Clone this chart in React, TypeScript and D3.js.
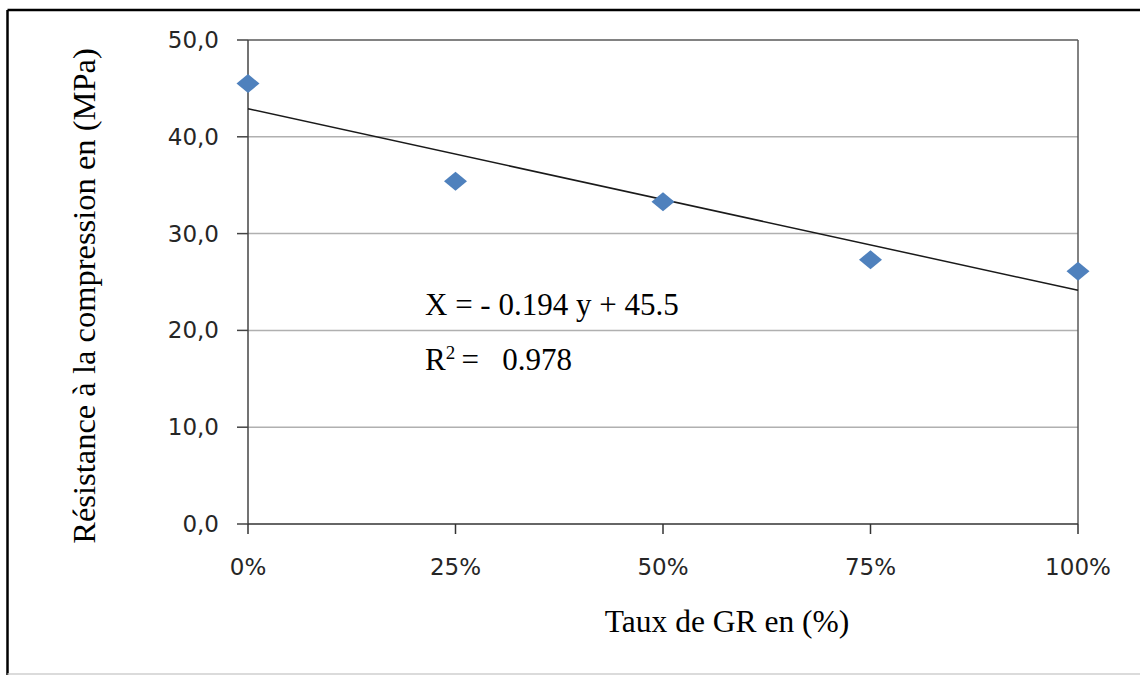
import React from "react";
import * as d3 from "d3";

// Taux de GR (%) and compressive strength (MPa)
const rates = [0, 25, 50, 75, 100];
const strength = [45.5, 35.4, 33.3, 27.3, 26.1];
const yTicks = [0, 10, 20, 30, 40, 50];
const xTicks = [0, 25, 50, 75, 100];
const equationText = "X = - 0.194 y + 45.5";
const r2Value = "0.978";

const W = 1140;
const H = 675;
const margin = { top: 40, right: 62, bottom: 151, left: 248 };

function linearFit(xs: number[], ys: number[]) {
  const mx = d3.mean(xs) as number;
  const my = d3.mean(ys) as number;
  let num = 0;
  let den = 0;
  xs.forEach((x, i) => {
    num += (x - mx) * (ys[i] - my);
    den += (x - mx) * (x - mx);
  });
  const slope = num / den;
  return { slope, intercept: my - slope * mx };
}

export default function App() {
  const x = d3.scaleLinear().domain([0, 100]).range([margin.left, W - margin.right]);
  const y = d3.scaleLinear().domain([0, 50]).range([H - margin.bottom, margin.top]);
  const fit = linearFit(rates, strength);
  const trend = d3
    .line<number>()
    .x((d) => x(d))
    .y((d) => y(fit.intercept + fit.slope * d));

  const diamond = "M0,-9.5L11.5,0L0,9.5L-11.5,0Z";
  const tickFont = "'DejaVu Sans', Verdana, sans-serif";
  const serif = "'Liberation Serif', 'Times New Roman', serif";

  const x0 = x(0);
  const x1 = x(100);
  const yb = y(0);
  const yt = y(50);

  return (
    <svg
      width={W}
      height={H}
      style={{ position: "absolute", left: 0, top: 0, background: "#fff" }}
    >
      {/* outer frame */}
      <line x1={7.5} x2={W} y1={10} y2={10} stroke="#000" strokeWidth={2.5} />
      <line x1={7.5} x2={7.5} y1={10} y2={H} stroke="#000" strokeWidth={2.5} />
      <line x1={7.5} x2={W} y1={674} y2={674} stroke="#cfcfcf" strokeWidth={1.5} />

      {/* gridlines */}
      {yTicks.slice(1, -1).map((t) => (
        <line key={t} x1={x0} x2={x1} y1={y(t)} y2={y(t)} stroke="#b0b0b0" strokeWidth={1.5} />
      ))}
      {/* plot border top/right */}
      <line x1={x0} x2={x1} y1={yt} y2={yt} stroke="#585858" strokeWidth={1.5} />
      <line x1={x1} x2={x1} y1={yt} y2={yb} stroke="#585858" strokeWidth={1.5} />

      {/* y axis */}
      <line x1={x0} x2={x0} y1={yt} y2={yb} stroke="#444" strokeWidth={1.5} />
      {yTicks.map((t) => (
        <g key={t}>
          <line x1={x0 - 11} x2={x0} y1={y(t)} y2={y(t)} stroke="#444" strokeWidth={1.5} />
          <text
            x={219}
            y={y(t) + 8}
            textAnchor="end"
            fontFamily={tickFont}
            fontSize={23}
            fill="#262626"
          >
            {t.toFixed(1).replace(".", ",")}
          </text>
        </g>
      ))}

      {/* x axis */}
      <line x1={x0} x2={x1} y1={yb} y2={yb} stroke="#333" strokeWidth={1.5} />
      {xTicks.map((t) => (
        <g key={t}>
          <line x1={x(t)} x2={x(t)} y1={yb} y2={yb + 10} stroke="#333" strokeWidth={1.5} />
          <text
            x={x(t)}
            y={575}
            textAnchor="middle"
            fontFamily={tickFont}
            fontSize={23}
            fill="#262626"
          >
            {t}%
          </text>
        </g>
      ))}

      {/* trendline */}
      <path d={trend([0, 100]) || ""} fill="none" stroke="#1a1a1a" strokeWidth={1.5} />

      {/* points */}
      {rates.map((r, i) => (
        <path
          key={r}
          d={diamond}
          transform={`translate(${x(r)},${y(strength[i])})`}
          fill="#4f81bd"
        />
      ))}

      {/* equation */}
      <text x={425} y={315} fontFamily={serif} fontSize={31} fill="#000">
        {equationText}
      </text>
      <text
        x={425}
        y={370}
        fontFamily={serif}
        fontSize={31}
        fill="#000"
        style={{ whiteSpace: "pre" }}
      >
        R<tspan fontSize={19} dy={-11}>2</tspan>
        <tspan dy={11}>{"\u2009=   " + r2Value}</tspan>
      </text>

      {/* axis titles */}
      <text
        x={727}
        y={632}
        textAnchor="middle"
        fontFamily={serif}
        fontSize={31.5}
        fill="#000"
      >
        Taux de GR en (%)
      </text>
      <text
        transform={`translate(95,296) rotate(-90)`}
        textAnchor="middle"
        fontFamily={serif}
        fontSize={32.5}
        fill="#000"
      >
        Résistance à la compression en (MPa)
      </text>
    </svg>
  );
}
